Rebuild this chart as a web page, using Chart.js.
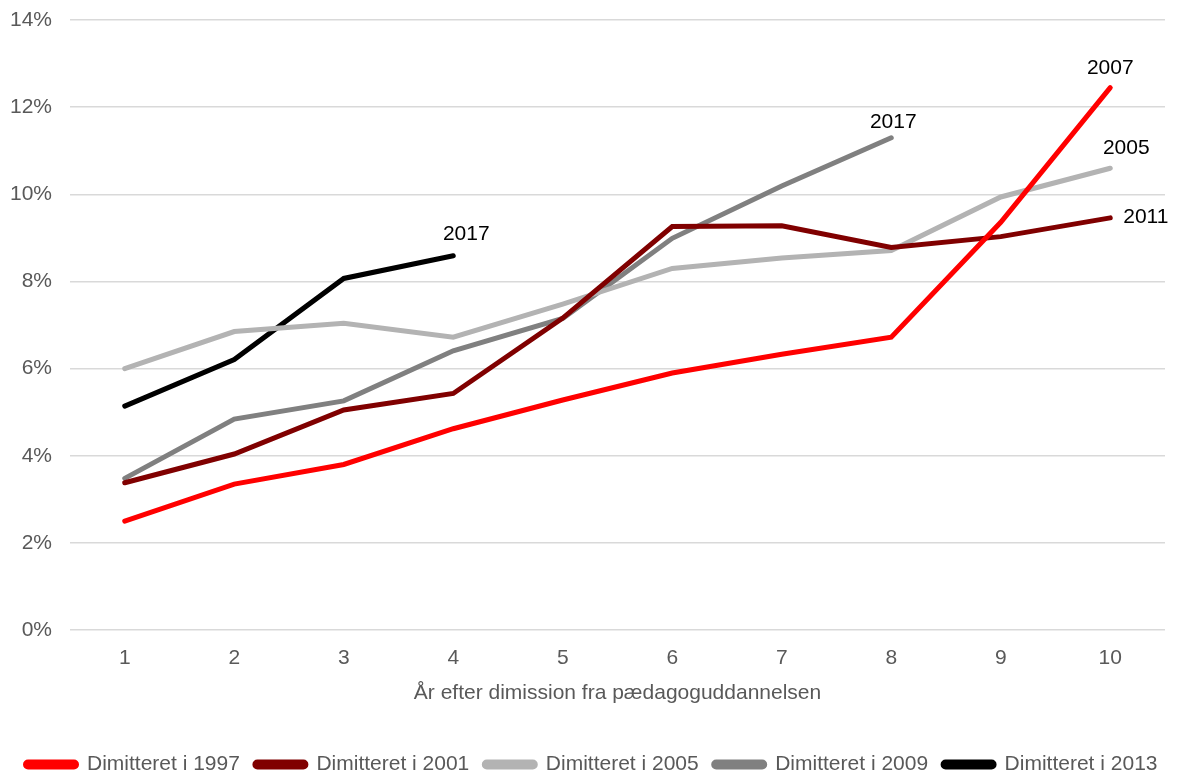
<!DOCTYPE html>
<html>
<head>
<meta charset="utf-8">
<script src="https://cdn.jsdelivr.net/npm/chart.js@4.4.1/dist/chart.umd.min.js"></script>
<style>
  html, body { margin: 0; padding: 0; background: #fff; overflow: hidden; }
  #wrap { width: 1177px; height: 785px; position: relative; }
</style>
</head>
<body>
<div id="wrap"><canvas id="chart"></canvas></div>
<script>
// Years after graduation (x axis)
const years = ['1', '2', '3', '4', '5', '6', '7', '8', '9', '10'];

// Share per cohort (fraction)
const cohort1997 = [0.0250, 0.0335, 0.0380, 0.0462, 0.0528, 0.0590, 0.0633, 0.0672, 0.0936, 0.1245];
const cohort2001 = [0.0338, 0.0404, 0.0505, 0.0543, 0.0716, 0.0926, 0.0928, 0.0878, 0.0903, 0.0946];
const cohort2005 = [0.0600, 0.0685, 0.0704, 0.0672, 0.0748, 0.0830, 0.0854, 0.0871, 0.0994, 0.1060];
const cohort2009 = [0.0348, 0.0484, 0.0526, 0.0641, 0.0715, 0.0899, 0.1019, 0.1130, null, null];
const cohort2013 = [0.0514, 0.0621, 0.0807, 0.0859, null, null, null, null, null, null];

const seriesNames = ['Dimitteret i 1997', 'Dimitteret i 2001', 'Dimitteret i 2005', 'Dimitteret i 2009', 'Dimitteret i 2013'];
// Year shown at the end of each line
const endLabels = ['2007', '2011', '2005', '2017', '2017'];

const yTicks = [0, 0.02, 0.04, 0.06, 0.08, 0.10, 0.12, 0.14];

const colors = ['#ff0000', '#800000', '#b3b3b3', '#808080', '#000000'];
// where each end label sits relative to the last point: [dx, dy, align]
const labelPlace = [
    [0, -19, 'center'],
    [13, -1, 'left'],
    [16, -20, 'center'],
    [2, -16, 'center'],
    [13, -22, 'center']
];

const FONT = '"Liberation Sans", Arial, sans-serif';

const endLabelPlugin = {
    id: 'endLabels',
    afterDatasetsDraw(chart) {
        const ctx = chart.ctx;
        ctx.save();
        ctx.font = '21px ' + FONT;
        ctx.fillStyle = '#000';
        ctx.textBaseline = 'middle';
        chart.data.datasets.forEach((ds, i) => {
            const meta = chart.getDatasetMeta(i);
            let last = -1;
            ds.data.forEach((v, j) => { if (v !== null) last = j; });
            const pt = meta.data[last];
            const p = labelPlace[i];
            ctx.textAlign = p[2];
            ctx.fillText(endLabels[i], pt.x + p[0], pt.y + p[1]);
        });
        ctx.restore();
    }
};

const allSeries = [cohort1997, cohort2001, cohort2005, cohort2009, cohort2013];

new Chart(document.getElementById('chart'), {
    type: 'line',
    data: {
        labels: years,
        datasets: allSeries.map((d, i) => ({
            label: seriesNames[i],
            data: d,
            borderColor: colors[i],
            backgroundColor: colors[i],
            borderWidth: 5,
            borderCapStyle: 'round',
            borderJoinStyle: 'miter',
            pointRadius: 0,
            tension: 0,
            spanGaps: false
        }))
    },
    options: {
        responsive: true,
        maintainAspectRatio: false,
        animation: false,
        layout: { padding: { left: 6, right: 0, top: 0, bottom: 0 } },
        plugins: {
            legend: {
                position: 'bottom',
                labels: {
                    font: { family: FONT, size: 21 },
                    color: '#595959',
                    boxWidth: 51,
                    boxHeight: 5,
                    useBorderRadius: true,
                    borderRadius: 2.5,
                    padding: 15
                }
            },
            tooltip: { enabled: false }
        },
        scales: {
            x: {
                offset: true,
                grid: { display: false },
                border: { display: false },
                ticks: {
                    color: '#595959',
                    font: { family: FONT, size: 21, lineHeight: 1 },
                    padding: 10
                },
                title: {
                    display: true,
                    text: 'År efter dimission fra pædagoguddannelsen',
                    color: '#595959',
                    font: { family: FONT, size: 21, lineHeight: 1 },
                    padding: { top: 4, bottom: 35 }
                }
            },
            y: {
                min: 0,
                max: 0.14,
                afterBuildTicks(axis) { axis.ticks = yTicks.map(v => ({ value: v })); },
                afterFit(axis) { axis.width = 64; },
                grid: { color: '#d9d9d9', lineWidth: 1.5, drawTicks: false },
                border: { display: false },
                ticks: {
                    color: '#595959',
                    font: { family: FONT, size: 21, lineHeight: 0.2 },
                    padding: 18,
                    callback: v => Math.round(v * 100) + '%'
                }
            },
            // empty right axis, only keeps a margin right of the plot
            yRight: {
                position: 'right',
                min: 0,
                max: 0.14,
                grid: { display: false },
                border: { display: false },
                ticks: { display: false },
                afterFit(axis) { axis.width = 12; }
            }
        }
    },
    plugins: [endLabelPlugin]
});
</script>
</body>
</html>
